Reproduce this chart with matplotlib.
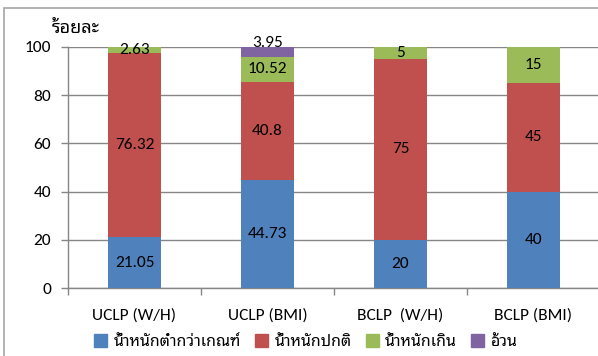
import matplotlib
matplotlib.use("Agg")
import matplotlib.pyplot as plt
import matplotlib.patches as mpatches
import numpy as np

# weight status (%) by group and criterion
groups = ['UCLP (W/H)', 'UCLP (BMI)', 'BCLP  (W/H)', 'BCLP (BMI)']
underweight = [21.05, 44.73, 20, 40]
normal = [76.32, 40.8, 75, 45]
overweight = [2.63, 10.52, 5, 15]
obese = [0, 3.95, 0, 0]
series_names = ['น้ำหนักต่ำกว่าเกณฑ์', 'น้ำหนักปกติ', 'น้ำหนักเกิน', 'อ้วน']
colors = ['#4F81BD', '#C0504D', '#9BBB59', '#8064A2']
yticks = [0, 20, 40, 60, 80, 100]

latin = ['Carlito', 'Noto Sans Thai Looped', 'DejaVu Sans']
thai = ['Noto Sans Thai Looped', 'Carlito', 'DejaVu Sans']

fig = plt.figure(figsize=(5.98, 3.56), dpi=100)
ax = fig.add_axes([68/598, 1-288/356, 532/598, 241/356])

# outer chart frame
fig.patches.append(mpatches.Rectangle((4/598, -0.2), 1.5, 1.2 - 8/356,
                                      transform=fig.transFigure, fill=False,
                                      edgecolor='#a6a6a6', lw=1.2))

x = np.arange(len(groups))
bottom = np.zeros(len(groups))
last_label = np.full(len(groups), -100.0)
for vals, name, c in zip([underweight, normal, overweight, obese], series_names, colors):
    vals = np.array(vals, dtype=float)
    ax.bar(x, vals, width=0.4, bottom=bottom, color=c, zorder=3)
    for i, (xi, v, b) in enumerate(zip(x, vals, bottom)):
        if v > 0:
            yc = b + v / 2
            # labels crowding the one below get lifted a bit
            dy = 6 if yc - last_label[i] < 8 else 0
            ax.annotate(f'{v:g}', (xi, yc), xytext=(0, dy),
                        textcoords='offset points', ha='center', va='center',
                        fontsize=12.5, family=latin, color='black', zorder=4)
            last_label[i] = yc
    bottom += vals

ax.set_xlim(-0.5, len(groups) - 0.5)
ax.set_ylim(0, 100)
ax.set_yticks(yticks)
ax.set_yticklabels([str(t) for t in yticks], family=latin, fontsize=12.5)
ax.set_xticks(x)
ax.set_xticklabels(groups, family=latin, fontsize=12.5)
ax.tick_params(axis='x', length=0, pad=15)
ax.set_xticks(np.arange(len(groups) + 1) - 0.5, minor=True)
ax.tick_params(axis='x', which='minor', length=5, color='#868686', width=1)
ax.tick_params(axis='y', length=5, color='#868686', width=1, pad=7)
ax.grid(axis='y', color='#868686', lw=1, zorder=0)
for s in ['top', 'right']:
    ax.spines[s].set_visible(False)
for s in ['left', 'bottom']:
    ax.spines[s].set_color('#868686')
    ax.spines[s].set_linewidth(1)

fig.text(52/598, 1-28/356, 'ร้อยละ', family=thai, fontsize=13, ha='left', va='center')

fig.legend([mpatches.Patch(color=c) for c in colors], series_names,
           loc='center', bbox_to_anchor=(306/598, 1-342/356), ncol=4,
           frameon=False, prop={'family': thai, 'size': 11.5},
           handlelength=0.8, handleheight=0.8, handletextpad=0.4,
           columnspacing=0.9)

fig.savefig('out.png', dpi=100)
